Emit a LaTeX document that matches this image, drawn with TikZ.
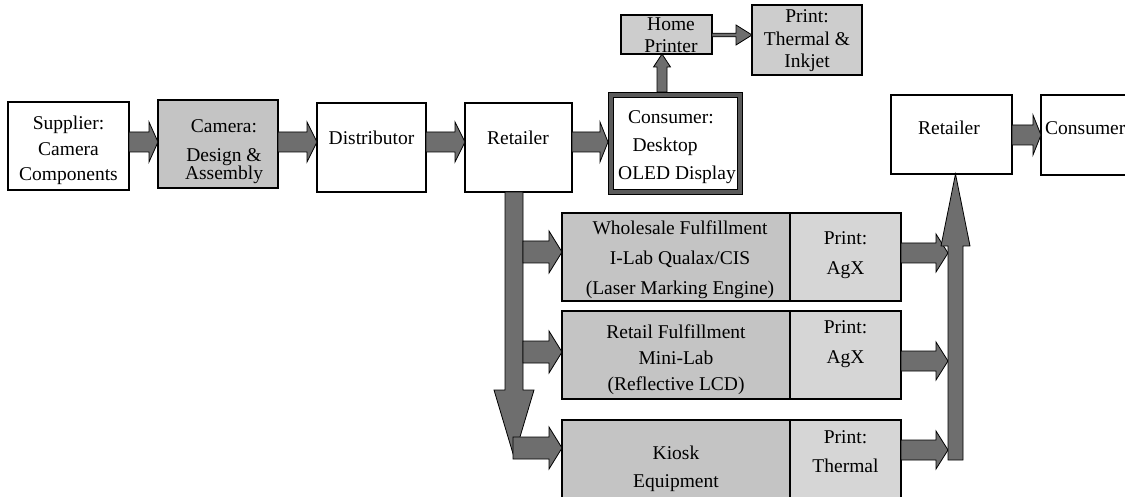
\documentclass[tikz,border=0pt]{standalone}
\usepackage{fontspec}
\setmainfont{Liberation Serif}
\usetikzlibrary{calc}

\definecolor{arrowgray}{HTML}{6E6E6E}
\definecolor{boxgray}{HTML}{C4C4C4}
\definecolor{printgray}{HTML}{D6D6D6}
\definecolor{lightgray}{HTML}{CDCDCD}
\definecolor{framegray}{HTML}{5A5A5A}

% Block arrow: #1 tail, #2 tip, #3 shaft half-width, #4 head half-width, #5 head length
\newcommand\blockarrow[5]{%
  \coordinate (ba-t) at #1;
  \coordinate (ba-h) at #2;
  \coordinate (ba-b) at ($(ba-h)!#5!(ba-t)$);
  \draw[blk] ($(ba-t)!#3!90:(ba-h)$) -- ($(ba-b)!#3!-90:(ba-t)$)
    -- ($(ba-b)!#4!-90:(ba-t)$) -- (ba-h) -- ($(ba-b)!#4!90:(ba-t)$)
    -- ($(ba-b)!#3!90:(ba-t)$) -- ($(ba-t)!#3!-90:(ba-h)$) -- cycle;
}
% Centered lines with a given line spacing; the node's base is the first baseline
\newcommand\mlines[2]{{\fontsize{19.5}{#1}\selectfont\begin{tabular}[t]{@{}c@{}}#2\end{tabular}}}

\tikzset{
  box/.style={draw=black, line width=1.3pt, inner sep=0pt, outer sep=0pt, fill=white},
  lbl/.style={inner sep=0pt, anchor=base, font=\fontsize{19.5}{24}\selectfont},
  blk/.style={draw=black, line width=0.8pt, fill=arrowgray, line join=miter},
}

\begin{document}
\begin{tikzpicture}[x=1pt,y=-1pt]
\useasboundingbox[fill=white] (0,0) rectangle (1125,497);

% upper chain
\node[box, minimum width=121pt, minimum height=88pt] (sup) at (68.5,146) {};
\node[box, fill=boxgray, minimum width=120pt, minimum height=88pt] (cam) at (218,144) {};
\node[box, minimum width=109pt, minimum height=89pt] (dist) at (371.5,147.5) {};
\node[box, minimum width=107pt, minimum height=89pt] (ret) at (518.5,147.5) {};
\node[draw=black, line width=0.8pt, double=framegray, double distance=4.4pt, fill=white,
      inner sep=0pt, outer sep=3pt, minimum width=129pt, minimum height=97pt] (cons) at (675.5,143.5) {};
\node[box, fill=lightgray, minimum width=91pt, minimum height=39pt] (hp) at (666.5,34.5) {};
\node[box, fill=lightgray, minimum width=110pt, minimum height=70pt] (pti) at (807,40) {};

% fulfillment rows
\node[box, fill=boxgray, minimum width=228pt, minimum height=88pt] (wf) at (676,257) {};
\node[box, fill=printgray, minimum width=111pt, minimum height=88pt] (wp) at (845.5,257) {};
\node[box, fill=boxgray, minimum width=228pt, minimum height=88pt] (rf) at (676,355) {};
\node[box, fill=printgray, minimum width=111pt, minimum height=88pt] (rp) at (845.5,355) {};
\node[box, fill=boxgray, minimum width=228pt, minimum height=80pt] (kq) at (676,460) {};
\node[box, fill=printgray, minimum width=111pt, minimum height=80pt] (kp) at (845.5,460) {};

% right chain
\node[box, minimum width=121pt, minimum height=79pt] (ret2) at (951.5,134.5) {};
\node[box, minimum width=89pt, minimum height=80pt] (con2) at (1085.5,135) {};

% arrows along the upper chain
\blockarrow{(sup.east |- 0,142)}{(cam.west |- 0,142)}{10pt}{20pt}{9pt}
\blockarrow{(cam.east |- 0,142)}{(dist.west |- 0,142)}{10pt}{20pt}{10pt}
\blockarrow{(dist.east |- 0,142)}{(ret.west |- 0,142)}{10pt}{20pt}{10pt}
\blockarrow{(ret.east |- 0,142)}{(cons.west |- 0,142)}{10pt}{20pt}{8pt}
\blockarrow{(cons.north -| 662,0)}{(hp.south -| 662,0)}{5pt}{8.5pt}{13pt}
\blockarrow{(hp.east |- 0,35)}{(pti.west |- 0,35)}{1.8pt}{10pt}{16pt}

% trunk down from the retailer and its branches
\coordinate (trunkend) at (514,457);
\blockarrow{(ret.south -| 514,0)}{(trunkend)}{9pt}{20pt}{67pt}
\coordinate (br1) at (523,252);
\coordinate (br2) at (523,352);
\coordinate (br3) at (513,448);
\blockarrow{(br1)}{(wf.west |- br1)}{11pt}{21pt}{13pt}
\blockarrow{(br2)}{(rf.west |- br2)}{11pt}{21pt}{13pt}
\blockarrow{(br3)}{(kq.west |- br3)}{11pt}{21pt}{13pt}

% prints gathered up to the retailer
\coordinate (in1) at (948,253);
\coordinate (in2) at (948,361);
\coordinate (in3) at (948,450);
\blockarrow{(wp.east |- in1)}{(in1)}{10pt}{19pt}{12pt}
\blockarrow{(rp.east |- in2)}{(in2)}{10pt}{19pt}{12pt}
\blockarrow{(kp.east |- in3)}{(in3)}{10pt}{19pt}{12pt}
\coordinate (risebase) at (955.5,460);
\blockarrow{(risebase)}{(ret2.south -| risebase)}{7.5pt}{14.5pt}{72pt}
\blockarrow{(ret2.east |- 0,135)}{(con2.west |- 0,135)}{10pt}{20pt}{8pt}

% labels
\node[lbl] (t-sup) at (68.5,130) {\mlines{25.5}{Supplier:\\Camera\\Components}};
\node[lbl] (t-cam) at (224,133) {\mlines{29}{Camera:\\Design \&\\[-11pt]Assembly}};
\node[lbl] (t-dist) at (371.5,145) {Distributor};
\node[lbl] (t-ret) at (518,145) {Retailer};
\node[lbl] (t-cons) at (671,124) {\mlines{28}{Consumer:\\Desktop\hspace*{12pt}\\\hspace*{12pt}OLED Display}};
\node[lbl] (t-hp) at (671,31) {\mlines{22}{Home\\Printer}};
\node[lbl] (t-pti) at (807,23) {\mlines{22.5}{Print:\\Thermal \&\\Inkjet}};
\node[lbl] (t-wf) at (680,235) {\mlines{30}{Wholesale Fulfillment\\I-Lab Qualax/CIS\\(Laser Marking Engine)}};
\node[lbl] (t-rf) at (676,338) {\mlines{26}{Retail Fulfillment\\Mini-Lab\\(Reflective LCD)}};
\node[lbl] (t-kq) at (676,459) {\mlines{28}{Kiosk\\Equipment}};
\node[lbl] (t-wp) at (845.5,245) {\mlines{30}{Print:\\AgX}};
\node[lbl] (t-rp) at (845.5,333) {\mlines{30}{Print:\\AgX}};
\node[lbl] (t-kp) at (845.5,443) {\mlines{29}{Print:\\Thermal}};
\node[lbl] (t-ret2) at (949,135) {Retailer};
\node[lbl, anchor=base west] (t-con2) at (1045,135) {Consumer};
\end{tikzpicture}
\end{document}
